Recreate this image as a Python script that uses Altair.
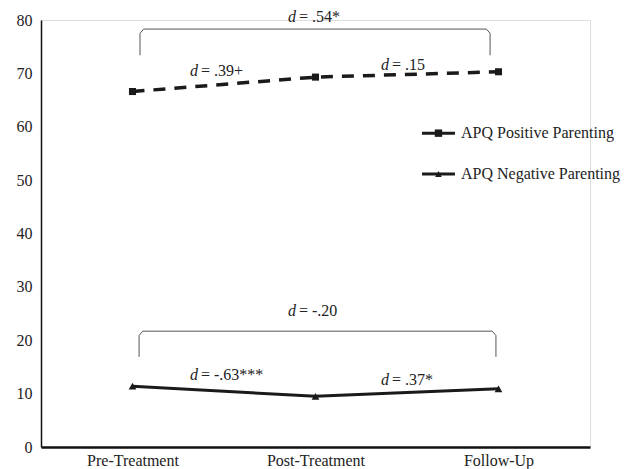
import altair as alt
import pandas as pd

# ---- data ----
timepoints = ["Pre-Treatment", "Post-Treatment", "Follow-Up"]
positive = [66.6, 69.3, 70.3]
negative = [11.4, 9.5, 10.9]
y_ticks = [0, 10, 20, 30, 40, 50, 60, 70, 80]

# annotation effect sizes (label, x position in category units [0..3], y value)
ann_rest = ["= .54*", "= .39+", "= .15", "= -.20", "= -.63***", "= .37*"]
ann_x = [1.393, 0.858, 1.902, 1.393, 0.858, 1.902]
ann_y = [80.6, 70.4, 71.6, 25.4, 13.5, 12.6]

# brackets: (left, right, top, bottom)
br_left = [0.541, 0.536]
br_right = [2.454, 2.486]
br_top = [78.3, 21.7]
br_bottom = [73.4, 16.9]

legend_labels = ["APQ Positive Parenting", "APQ Negative Parenting"]
legend_y = [58.8, 51.15]
legend_x0, legend_x1, legend_mark, legend_text = 2.082, 2.262, 2.172, 2.295

FONT = "'Liberation Serif', 'Times New Roman', 'DejaVu Serif', serif"
FS = 16
TXT = "#222222"

df_pos = pd.DataFrame({"time": timepoints, "value": positive})
df_neg = pd.DataFrame({"time": timepoints, "value": negative})

yaxis = alt.Axis(title=None, values=y_ticks, ticks=False, domainColor="#111",
                 domainWidth=1.5, labelFont=FONT, labelFontSize=FS,
                 labelColor=TXT, labelPadding=9, grid=False)
yscale = alt.Scale(domain=[0, 80], nice=False)

xcat = alt.X("time:N", sort=timepoints,
             scale=alt.Scale(type="point", padding=0.5),
             axis=alt.Axis(title=None, labelAngle=0, ticks=False, domainColor="#111",
                           domainWidth=2.5, labelFont=FONT, labelFontSize=FS,
                           labelColor=TXT, labelPadding=5, grid=False))
yval = alt.Y("value:Q", scale=yscale, axis=yaxis)

pos_line = alt.Chart(df_pos).mark_line(strokeDash=[12, 9], strokeWidth=3.5,
                                       color="#1a1a1a").encode(x=xcat, y=yval)
pos_pts = alt.Chart(df_pos).mark_point(shape="square", filled=True, size=50, opacity=1,
                                       color="#1a1a1a").encode(x=xcat, y=yval)
neg_line = alt.Chart(df_neg).mark_line(strokeWidth=3, color="#1a1a1a").encode(x=xcat, y=yval)
neg_pts = alt.Chart(df_neg).mark_point(shape="triangle-up", filled=True, size=60, opacity=1,
                                       color="#1a1a1a").encode(x=xcat, y=yval)

xq = lambda f: alt.X(f, type="quantitative", scale=alt.Scale(domain=[0, 3], nice=False, zero=False), axis=None)
yq = lambda f: alt.Y(f, type="quantitative", scale=yscale, axis=yaxis)

# bracket paths
rows = []
for i in range(2):
    L, R, T, B = br_left[i], br_right[i], br_top[i], br_bottom[i]
    pts = [(L, B), (L, T - 0.8), (L + 0.02, T), (R - 0.02, T), (R, T - 0.8), (R, B)]
    for k, (px, py) in enumerate(pts):
        rows.append({"b": i, "o": k, "px": px, "py": py})
df_br = pd.DataFrame(rows)
brackets = alt.Chart(df_br).mark_line(color="#555", strokeWidth=1).encode(
    x=xq("px"), y=yq("py"), detail="b:N", order="o:Q")

df_ann = pd.DataFrame({"rest": ann_rest, "ax": ann_x, "ay": ann_y, "d": ["d"] * len(ann_rest)})
ann_d = alt.Chart(df_ann).mark_text(font=FONT, fontSize=FS, fontStyle="italic", align="right",
                                    baseline="middle", color=TXT).encode(
    x=xq("ax"), y=yq("ay"), text="d:N")
ann_r = alt.Chart(df_ann).mark_text(font=FONT, fontSize=FS, align="left", dx=3,
                                    baseline="middle", color=TXT).encode(
    x=xq("ax"), y=yq("ay"), text="rest:N")

df_leg = pd.DataFrame({"label": legend_labels, "ly": legend_y,
                       "x0": [legend_x0] * 2, "x1": [legend_x1] * 2,
                       "xm": [legend_mark] * 2, "xt": [legend_text] * 2})
leg_pos_line = alt.Chart(df_leg.iloc[[0]]).mark_rule(strokeDash=[13.5, 6], strokeWidth=3,
                                                     color="#1a1a1a").encode(
    x=xq("x0"), x2="x1", y=yq("ly"))
leg_neg_line = alt.Chart(df_leg.iloc[[1]]).mark_rule(strokeWidth=3, color="#1a1a1a").encode(
    x=xq("x0"), x2="x1", y=yq("ly"))
leg_sq = alt.Chart(df_leg.iloc[[0]]).mark_point(shape="square", filled=True, size=55, opacity=1,
                                                color="#1a1a1a").encode(x=xq("xm"), y=yq("ly"))
leg_tri = alt.Chart(df_leg.iloc[[1]]).mark_point(shape="triangle-up", filled=True, size=45, opacity=1,
                                                 color="#1a1a1a").encode(x=xq("xm"), y=yq("ly"))
leg_txt = alt.Chart(df_leg).mark_text(font=FONT, fontSize=FS, align="left", baseline="middle",
                                      color=TXT).encode(x=xq("xt"), y=yq("ly"), text="label:N")

data_layer = alt.layer(pos_line, pos_pts, neg_line, neg_pts)
ann_layer = alt.layer(brackets, ann_d, ann_r, leg_pos_line, leg_neg_line, leg_sq, leg_tri, leg_txt)

chart = alt.layer(data_layer, ann_layer).resolve_scale(x="independent").properties(
    width=549, height=427,
    autosize=alt.AutoSizeParams(type="none"),
    padding={"left": 33, "top": 12, "right": 33, "bottom": 22},
).configure_view(stroke="transparent", strokeWidth=0).configure(background="white")

chart.save("out.html", embed_options={"renderer": "svg", "actions": False})
